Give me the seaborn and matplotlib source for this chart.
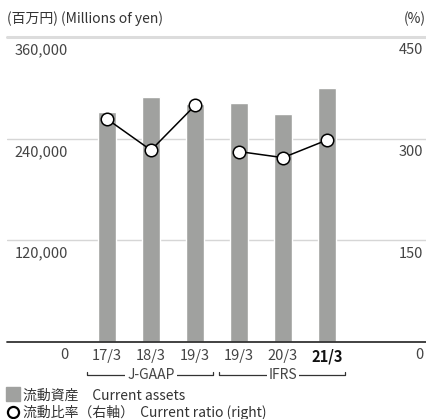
import numpy as np
import pandas as pd
import matplotlib
matplotlib.use("Agg")
import matplotlib.pyplot as plt
from matplotlib.lines import Line2D
import seaborn as sns

# ── Data ────────────────────────────────────────────────────────────────────
periods = ["17/3", "18/3", "19/3", "19/3", "20/3", "21/3"]
standards = ["J-GAAP", "J-GAAP", "J-GAAP", "IFRS", "IFRS", "IFRS"]
current_assets = [272000, 289000, 281000, 282000, 269000, 300000]   # millions of yen
current_ratio = [329, 283, 349, 281, 272, 298]                      # %

left_ticks = [0, 120000, 240000, 360000]
left_labels = ["0", "120,000", "240,000", "360,000"]
right_ticks = [0, 150, 300, 450]
right_labels = ["0", "150", "300", "450"]

BAR_COLOR = "#a0a19f"
TEXT_COLOR = "#444444"

sns.set_theme(style="white")
plt.rcParams["font.family"] = ["Noto Sans CJK JP", "DejaVu Sans"]

df = pd.DataFrame({
    "idx": np.arange(len(periods)),
    "period": periods,
    "standard": standards,
    "assets": current_assets,
    "ratio": current_ratio,
})

fig = plt.figure(figsize=(4.26, 4.19), dpi=100)
W, H = 426, 419
x0, x1, y_top, y_base = 7, 426, 37, 342
ax = fig.add_axes([x0 / W, (H - y_base) / H, (x1 - x0) / W, (y_base - y_top) / H])

sns.barplot(data=df, x="idx", y="assets", native_scale=True, width=0.41,
            color=BAR_COLOR, saturation=1, ax=ax, zorder=2)

ax.set_xlim((x0 - 107) / 44, (x1 - 107) / 44)
ax.set_ylim(0, 360000)
for s in ax.spines.values():
    s.set_visible(False)
ax.set_yticks([])
ax.set_xlabel("")
ax.set_ylabel("")

# grid lines
for t in left_ticks[1:-1]:
    ax.axhline(t, color="#d6d6d6", lw=1.0, zorder=1)
ax.axhline(360000, color="#dcdcdc", lw=2.2, zorder=1, clip_on=False)
ax.axhline(0, color="#333333", lw=1.3, zorder=3, clip_on=False)

# x tick labels
ax.set_xticks(df["idx"], periods)
ax.tick_params(axis="x", length=0, pad=5, labelsize=10.5, labelcolor=TEXT_COLOR)
last = ax.get_xticklabels()[-1]
last.set_fontweight("bold")
last.set_color("#111111")

# y labels, placed just under each grid line
for t, lab in zip(left_ticks, left_labels):
    ax.annotate(lab, xy=(0.1456, t), xycoords=("axes fraction", "data"),
                xytext=(0, -9.5), textcoords="offset points",
                ha="right", va="center", fontsize=10.5, color=TEXT_COLOR)

ax2 = ax.twinx()
ax2.set_ylim(0, 450)
for s in ax2.spines.values():
    s.set_visible(False)
ax2.set_yticks([])
ax2.set_ylabel("")

for t, lab in zip(right_ticks, right_labels):
    ax2.annotate(lab, xy=(0.993, t), xycoords=("axes fraction", "data"),
                 xytext=(0, -9.5), textcoords="offset points",
                 ha="right", va="center", fontsize=10.5, color=TEXT_COLOR)

# ratio line, broken at the change of accounting standard
for std in ["J-GAAP", "IFRS"]:
    sub = df[df["standard"] == std]
    sns.lineplot(data=sub, x="idx", y="ratio", ax=ax2, color="black", lw=1.1,
                 marker="o", markersize=9, markerfacecolor="white",
                 markeredgecolor="black", markeredgewidth=1.1, zorder=4)
ax2.set_xlabel("")
ax2.set_ylabel("")
ax2.set_xlim(ax.get_xlim())

# accounting standard brackets under the x labels
trans = ax.get_xaxis_transform()
for std in ["J-GAAP", "IFRS"]:
    sub = df[df["standard"] == std]
    a, b = sub["idx"].min() - 0.45, sub["idx"].max() + 0.42
    yb, yt = -0.108, -0.097
    ax.plot([a, a, b, b], [yt, yb, yb, yt], transform=trans, color="#333333",
            lw=0.9, clip_on=False)
    ax.text(sub["idx"].mean(), yb, std, transform=trans, ha="center", va="center",
            fontsize=10, color=TEXT_COLOR,
            bbox=dict(facecolor="white", edgecolor="none", pad=1.5))

# headers
fig.text(7 / W, (H - 19) / H, "(百万円) (Millions of yen)", ha="left", va="center",
         fontsize=10, color="#333333")
fig.text(1.0, (H - 19) / H, "(%)", ha="right", va="center",
         fontsize=10, color="#333333")

# legend
handles = [
    Line2D([], [], marker="s", ls="none", markersize=9.4, markerfacecolor=BAR_COLOR,
           markeredgecolor=BAR_COLOR),
    Line2D([], [], marker="o", ls="none", markersize=8, markerfacecolor="white",
           markeredgecolor="black", markeredgewidth=1.6),
]
fig.legend(handles, ["流動資産　Current assets", "流動比率（右軸）  Current ratio (right)"],
           loc="lower left", bbox_to_anchor=(-0.005, -0.026), frameon=False,
           fontsize=10, handlelength=0.8, handletextpad=0.3, labelspacing=0.2,
           borderpad=0.2, labelcolor="#333333")

fig.savefig("out.png", dpi=100)
